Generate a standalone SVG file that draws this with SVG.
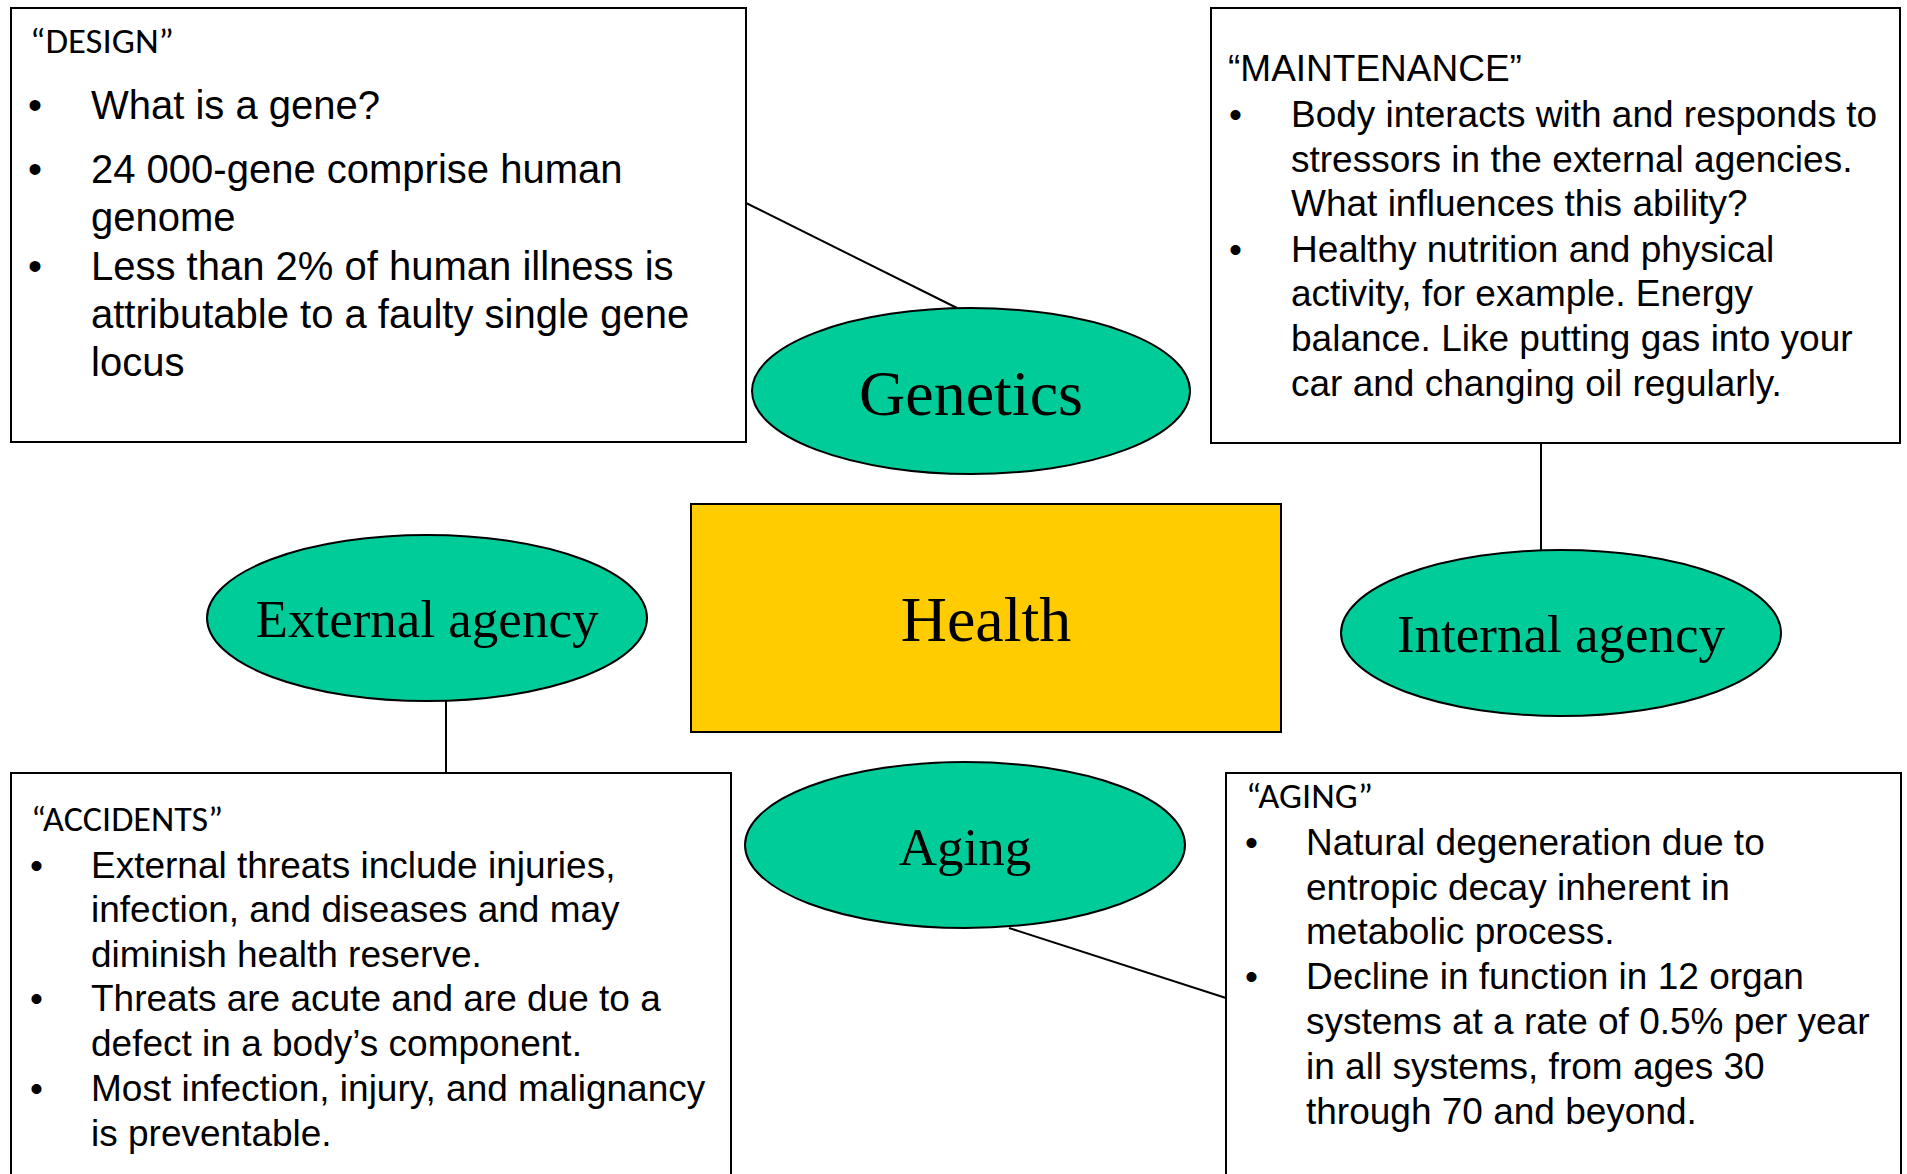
<svg xmlns="http://www.w3.org/2000/svg" width="1907" height="1174" viewBox="0 0 1907 1174">
<style>
.box{fill:#ffffff;stroke:#000000;stroke-width:2}
.oval{fill:#00CC99;stroke:#000000;stroke-width:2}
.hub{fill:#FFCC00;stroke:#000000;stroke-width:2}
.conn{stroke:#000000;stroke-width:2;fill:none}
.body{font-family:"Liberation Sans",Arial,sans-serif;fill:#000}
.b40{font-size:40px}
.b37{font-size:37px}
.ttl{font-family:Carlito,Lato,"Open Sans",sans-serif;font-size:34px;fill:#000}
.lbl{font-family:"Liberation Serif","Times New Roman",serif;fill:#000;text-anchor:middle}
</style>
<rect width="1907" height="1174" fill="#ffffff"/>
<g id="connectors">
<line class="conn" x1="746" y1="203" x2="957" y2="308"/>
<line class="conn" x1="1541" y1="443" x2="1541" y2="550"/>
<line class="conn" x1="446" y1="701" x2="446" y2="773"/>
<line class="conn" x1="1009" y1="928" x2="1226" y2="998"/>
</g>
<g id="design">
<rect class="box" x="11" y="8" width="735" height="434"/>
<text class="ttl" x="30" y="53" textLength="144" lengthAdjust="spacingAndGlyphs">“DESIGN”</text>
<g class="body b40">
<text x="28" y="119">•</text>
<text x="91" y="119">What is a gene?</text>
<text x="28" y="183">•</text>
<text x="91" y="183">24 000-gene comprise human</text>
<text x="91" y="231">genome</text>
<text x="28" y="280">•</text>
<text x="91" y="280">Less than 2% of human illness is</text>
<text x="91" y="327.5">attributable to a faulty single gene</text>
<text x="91" y="375.5">locus</text>
</g>
</g>
<g id="maintenance">
<rect class="box" x="1211" y="8" width="689" height="435"/>
<text class="body b37" x="1228" y="81">“MAINTENANCE”</text>
<g class="body b37">
<text x="1229" y="127">•</text>
<text x="1291" y="127">Body interacts with and responds to</text>
<text x="1291" y="172">stressors in the external agencies.</text>
<text x="1291" y="216">What influences this ability?</text>
<text x="1229" y="261.5">•</text>
<text x="1291" y="261.5">Healthy nutrition and physical</text>
<text x="1291" y="306">activity, for example. Energy</text>
<text x="1291" y="351">balance. Like putting gas into your</text>
<text x="1291" y="396">car and changing oil regularly.</text>
</g>
</g>
<g id="accidents">
<rect class="box" x="11" y="773" width="720" height="420"/>
<text class="ttl" x="31" y="831" textLength="192" lengthAdjust="spacingAndGlyphs">“ACCIDENTS”</text>
<g class="body b37">
<text x="30" y="877.5">•</text>
<text x="91" y="877.5">External threats include injuries,</text>
<text x="91" y="922">infection, and diseases and may</text>
<text x="91" y="967">diminish health reserve.</text>
<text x="30" y="1011">•</text>
<text x="91" y="1011">Threats are acute and are due to a</text>
<text x="91" y="1056">defect in a body’s component.</text>
<text x="30" y="1101">•</text>
<text x="91" y="1101">Most infection, injury, and malignancy</text>
<text x="91" y="1145.5">is preventable.</text>
</g>
</g>
<g id="aging-box">
<rect class="box" x="1226" y="773" width="675" height="420"/>
<text class="ttl" x="1246" y="808" textLength="127" lengthAdjust="spacingAndGlyphs">“AGING”</text>
<g class="body b37">
<text x="1245" y="854.5">•</text>
<text x="1306" y="854.5">Natural degeneration due to</text>
<text x="1306" y="899.5">entropic decay inherent in</text>
<text x="1306" y="944">metabolic process.</text>
<text x="1245" y="989">•</text>
<text x="1306" y="989">Decline in function in 12 organ</text>
<text x="1306" y="1034">systems at a rate of 0.5% per year</text>
<text x="1306" y="1079">in all systems, from ages 30</text>
<text x="1306" y="1123.5">through 70 and beyond.</text>
</g>
</g>
<g id="genetics">
<ellipse class="oval" cx="971" cy="391" rx="219" ry="83"/>
<text class="lbl" x="971" y="415" font-size="64">Genetics</text>
</g>
<g id="health">
<rect class="hub" x="691" y="504" width="590" height="228"/>
<text class="lbl" x="986" y="641" font-size="64">Health</text>
</g>
<g id="external-agency">
<ellipse class="oval" cx="427" cy="618" rx="220" ry="83"/>
<text class="lbl" x="427" y="637" font-size="53">External agency</text>
</g>
<g id="internal-agency">
<ellipse class="oval" cx="1561" cy="633" rx="220" ry="83"/>
<text class="lbl" x="1561" y="652" font-size="53">Internal agency</text>
</g>
<g id="aging">
<ellipse class="oval" cx="965" cy="845" rx="220" ry="83"/>
<text class="lbl" x="965" y="865" font-size="53">Aging</text>
</g>
</svg>
